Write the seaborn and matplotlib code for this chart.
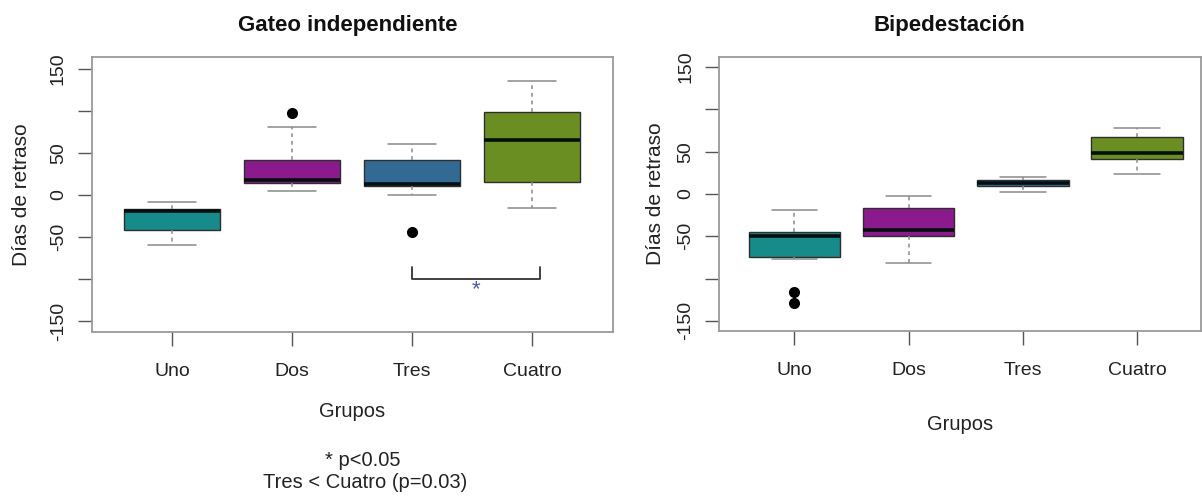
import numpy as np
import pandas as pd
import matplotlib
matplotlib.use("Agg")
import matplotlib.pyplot as plt
import seaborn as sns

# ---- data: five-number summaries per group (days of delay) ----
groups = ["Uno", "Dos", "Tres", "Cuatro"]
colors = ["#178a8a", "#8b1a8c", "#336a94", "#6b8e23"]

# Gateo independiente
gateo_min = [-60, 5, 0, -15]
gateo_q1 = [-42, 14, 11, 15]
gateo_med = [-19, 18, 13, 65]
gateo_q3 = [-17, 41, 41, 99]
gateo_max = [-8, 81, 60, 135]
gateo_out_group = ["Dos", "Tres"]
gateo_out_value = [98, -44]

# Bipedestación
biped_min = [-77, -81, 2, 24]
biped_q1 = [-74, -50, 9.5, 41]
biped_med = [-50, -42, 13.5, 48]
biped_q3 = [-45, -17, 16.5, 67]
biped_max = [-19, -2, 20.5, 78]
biped_out_group = ["Uno", "Uno"]
biped_out_value = [-116, -129]

ytick_values = [-150, -100, -50, 0, 50, 100, 150]
ytick_labels = ["-150", "", "-50", "0", "50", "", "150"]

# significance bracket for Tres vs Cuatro
bracket_pair = ("Tres", "Cuatro")
bracket_y = -100
bracket_arm = 14


def long_table(mins, q1s, meds, q3s, maxs):
    rows = []
    for g, a, b, c, d, e in zip(groups, mins, q1s, meds, q3s, maxs):
        for v in (a, b, c, d, e):
            rows.append({"Grupos": g, "dias": v})
    return pd.DataFrame(rows)


gateo_df = long_table(gateo_min, gateo_q1, gateo_med, gateo_q3, gateo_max)
biped_df = long_table(biped_min, biped_q1, biped_med, biped_q3, biped_max)
gateo_out = pd.DataFrame({"Grupos": gateo_out_group, "dias": gateo_out_value})
biped_out = pd.DataFrame({"Grupos": biped_out_group, "dias": biped_out_value})

sns.set_theme(style="white")
plt.rcParams["font.family"] = ["Liberation Sans", "DejaVu Sans"]

W, H = 1202, 496
fig = plt.figure(figsize=(W / 100, H / 100), dpi=100)
ax1 = fig.add_axes([92 / W, 1 - 332 / H, 521 / W, 275 / H])
ax2 = fig.add_axes([719 / W, 1 - 331 / H, 482 / W, 274 / H])

box_kws = dict(
    order=groups, palette=colors, saturation=1, width=0.8, whis=(0, 100),
    showfliers=False, linewidth=1.0, linecolor="#2e2e2e",
    medianprops=dict(color="#050f0f", linewidth=2.6),
    whiskerprops=dict(color="#8a8a8a", linestyle=(0, (2.5, 2.5)), linewidth=1.1),
    capprops=dict(color="#8a8a8a", linewidth=1.1),
)

for ax, df, out, title, tx, ylx, xlpad, ylim in [
    (ax1, gateo_df, gateo_out, "Gateo independiente", 0.49, -0.117, 16, (-163, 164)),
    (ax2, biped_df, biped_out, "Bipedestación", 0.477, -0.112, 26, (-162, 162)),
]:
    sns.boxplot(data=df, x="Grupos", y="dias", hue="Grupos", legend=False,
                ax=ax, **box_kws)
    sns.stripplot(data=out, x="Grupos", y="dias", order=groups, jitter=False,
                  color="black", size=8, ax=ax)
    ax.set_ylim(*ylim)
    ax.set_yticks(ytick_values)
    ax.set_yticklabels(ytick_labels, rotation=90, va="center")
    ax.set_xticks(range(len(groups)))
    ax.set_xticklabels(groups)
    ax.tick_params(axis="both", which="both", length=10, width=1.0,
                   color="#555555", labelsize=14, labelcolor="#222222",
                   direction="out", left=True, bottom=True)
    ax.tick_params(axis="x", pad=12)
    ax.tick_params(axis="y", pad=8)
    ax.set_ylabel("Días de retraso", fontsize=15, color="#222222")
    ax.yaxis.set_label_coords(ylx, 0.5)
    ax.set_xlabel("Grupos", fontsize=14.5, color="#222222", labelpad=xlpad)
    ax.set_title(title, fontsize=16, fontweight="bold", x=tx, y=1.0,
                 pad=19, color="#111111")
    for s in ax.spines.values():
        s.set_visible(True)
        s.set_color("#9a9a9a")
        s.set_linewidth(1.3)

ax1.set_xlim(-0.667, 3.675)
ax2.set_xlim(-0.66, 3.56)

# bracket marking the significant pair
x0 = groups.index(bracket_pair[0])
x1 = groups.index(bracket_pair[1]) + 0.07
ax1.plot([x0, x0, x1, x1],
         [bracket_y + bracket_arm, bracket_y, bracket_y, bracket_y + bracket_arm],
         color="#333333", linewidth=1.3)
ax1.text((x0 + x1) / 2, bracket_y - 13, "*", color="#4a5ea0", fontsize=16,
         ha="center", va="center")

fig.text(363 / W, 1 - 460 / H, "* p<0.05", ha="center", va="center",
         fontsize=14.5, color="#222222")
fig.text(365 / W, 1 - 482 / H, "Tres < Cuatro (p=0.03)", ha="center",
         va="center", fontsize=14.5, color="#222222")

fig.savefig("out.png", dpi=100, facecolor="white")
